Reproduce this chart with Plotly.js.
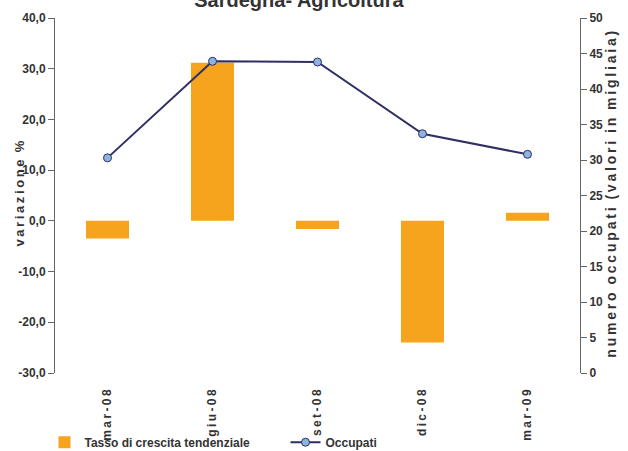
<!DOCTYPE html>
<html>
<head>
<meta charset="utf-8">
<script src="https://cdn.plot.ly/plotly-3.0.1.min.js"></script>
<style>
  html, body { margin: 0; padding: 0; background: #fff; }
  #chart { width: 628px; height: 451px; }
</style>
</head>
<body>
<div id="chart"></div>
<script>
// Sardegna - Agricoltura: tasso di crescita (barre) e occupati (linea)
var categories = ['mar-08', 'giu-08', 'set-08', 'dic-08', 'mar-09'];
var tassoCrescita = [-3.5, 31.2, -1.6, -24.0, 1.6];
var occupati = [30.3, 43.9, 43.8, 33.7, 30.8];
var leftTicks = [-30, -20, -10, 0, 10, 20, 30, 40];
var rightTicks = [0, 5, 10, 15, 20, 25, 30, 35, 40, 45, 50];

var SANS = '"Liberation Sans", Arial, sans-serif';
var INK = '#333333';
var AXIS = '#666666';
var THIN = '\u2009';

// letter-spaced text, as in the original
function spaced(s) {
  return s.split(' ').map(function (w) { return w.split('').join(THIN); }).join('  ');
}

var bars = {
  type: 'bar',
  x: categories,
  y: tassoCrescita,
  name: 'Tasso di crescita tendenziale',
  marker: { color: '#F6A41E' },
  width: 0.41
};

var line = {
  type: 'scatter',
  mode: 'lines+markers',
  x: categories,
  y: occupati,
  yaxis: 'y2',
  name: 'Occupati',
  line: { color: '#2E2F63', width: 2 },
  marker: { symbol: 'circle', size: 8, color: '#8FB3E0', line: { color: '#2E2F63', width: 1 } }
};

var layout = {
  width: 628,
  height: 451,
  margin: { l: 55, r: 48, t: 18, b: 78, autoexpand: false },
  paper_bgcolor: '#ffffff',
  plot_bgcolor: '#ffffff',
  showlegend: true,
  font: { family: SANS, size: 12, color: INK, weight: 'bold' },
  title: {
    text: '<b>Sardegna- Agricoltura</b>',
    font: { family: SANS, size: 20, color: INK },
    xref: 'container', x: 0.476, xanchor: 'center',
    yref: 'container', y: 1.0, yanchor: 'middle'
  },
  xaxis: {
    type: 'category',
    range: [-0.5, 4.5],
    automargin: false,
    tickmode: 'array',
    tickvals: categories,
    ticktext: categories.map(spaced),
    tickangle: -90,
    ticks: '',
    showline: false,
    showgrid: false,
    zeroline: false,
    ticklabelstandoff: 13,
    tickfont: { family: SANS, size: 12, color: INK, weight: 'bold' }
  },
  // axis line at zero with the category separator ticks crossing it
  xaxis2: {
    overlaying: 'x', anchor: 'free', position: 30 / 70,
    type: 'linear', range: [-0.5, 4.5], automargin: false,
    tickmode: 'array', tickvals: [0.5, 1.5, 2.5, 3.5],
    showticklabels: false, ticks: 'outside', ticklen: 4,
    tickcolor: AXIS, showline: true, linecolor: AXIS, linewidth: 1,
    showgrid: false, zeroline: false
  },
  xaxis3: {
    overlaying: 'x', anchor: 'free', position: 30 / 70,
    type: 'linear', range: [-0.5, 4.5], automargin: false,
    tickmode: 'array', tickvals: [0.5, 1.5, 2.5, 3.5],
    showticklabels: false, ticks: 'inside', ticklen: 5,
    tickcolor: AXIS, showline: false,
    showgrid: false, zeroline: false
  },
  yaxis: {
    range: [-30, 40],
    automargin: false,
    tickmode: 'array',
    tickvals: leftTicks,
    ticktext: leftTicks.map(function (v) { return v.toFixed(1).replace('.', ','); }),
    ticks: 'outside', ticklen: 6, tickcolor: AXIS,
    showline: true, linecolor: AXIS, linewidth: 1,
    showgrid: false, zeroline: false,
    tickfont: { family: SANS, size: 12, color: INK, weight: 'bold' }
  },
  yaxis2: {
    overlaying: 'y', side: 'right',
    range: [0, 50],
    automargin: false,
    tickmode: 'array',
    tickvals: rightTicks,
    ticks: 'outside', ticklen: 6, tickcolor: AXIS,
    showline: true, linecolor: AXIS, linewidth: 1,
    showgrid: false, zeroline: false,
    tickfont: { family: SANS, size: 12, color: INK, weight: 'bold' }
  },
  legend: {
    orientation: 'h',
    x: -0.02, xanchor: 'left',
    y: -0.195, yanchor: 'middle',
    entrywidth: 196,
    font: { family: SANS, size: 12, color: INK, weight: 'bold' },
    bgcolor: 'rgba(0,0,0,0)'
  },
  annotations: [
    {
      text: spaced('variazione') + '  %',
      textangle: -90,
      xref: 'paper', yref: 'paper',
      x: -0.067, y: 0.505,
      xanchor: 'center', yanchor: 'middle',
      showarrow: false,
      font: { family: SANS, size: 13, color: INK, weight: 'bold' }
    },
    {
      text: spaced('numero occupati (valori in migliaia)'),
      textangle: -90,
      xref: 'paper', yref: 'paper',
      x: 1.059, y: 0.505,
      xanchor: 'center', yanchor: 'middle',
      showarrow: false,
      font: { family: SANS, size: 14, color: INK, weight: 'bold' }
    }
  ]
};

Plotly.newPlot('chart', [bars, line], layout, { displayModeBar: false, staticPlot: true });
</script>
</body>
</html>
